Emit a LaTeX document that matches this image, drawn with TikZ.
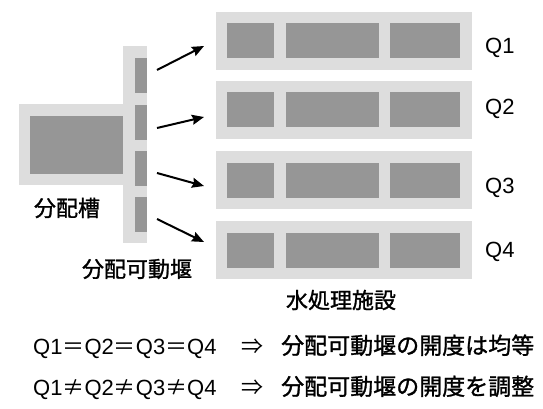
\documentclass[tikz,border=0pt]{standalone}
\usepackage{fontspec}
\setmainfont{Liberation Sans}
\newfontfamily\jp{Noto Sans CJK JP}
\newfontfamily\jpm{Noto Sans CJK JP}[FakeBold=1.2]
\usetikzlibrary{arrows.meta}
\definecolor{lite}{RGB}{221,221,221}
\definecolor{dark}{RGB}{150,150,150}
\begin{document}
\begin{tikzpicture}[x=1pt,y=-1pt,
 box/.style={rectangle,inner sep=0,outer sep=0,draw=none},
 outerbox/.style={box,fill=lite},
 innerbox/.style={box,fill=dark},
 flow/.style={line width=2pt,-{Stealth[length=12pt,width=10pt,inset=1.5pt]}},
 qlab/.style={font=\fontsize{22}{26}\selectfont,anchor=base west,inner sep=0},
 jlab/.style={font=\jpm\fontsize{22}{26}\selectfont,inner sep=0},
 eqline/.style={font=\fontsize{22}{26}\selectfont,anchor=base west,inner sep=0},
 jline/.style={font=\jpm\fontsize{23}{26}\selectfont,anchor=base west,inner sep=0}]
\useasboundingbox (0,0) rectangle (543,409);
% distribution tank and weir column
\node[outerbox,minimum width=104pt,minimum height=81pt] (tank) at (71,144.5) {};
\node[outerbox,minimum width=24pt,minimum height=197pt] (col) at (135,144.5) {};
\node[innerbox,minimum width=93pt,minimum height=58pt] (tankin) at (76.5,145) {};
\foreach \i/\yy in {1/75.5,2/122.5,3/168.5,4/214.5}
  \node[innerbox,minimum width=12pt,minimum height=35pt] (slot\i) at (141,\yy) {};
% treatment facility rows
\foreach \i/\yy in {1/41,2/110,3/180,4/250}{
  \node[outerbox,minimum width=256pt,minimum height=58pt] (row\i) at (344,\yy) {};
  \node[innerbox,minimum width=47pt,minimum height=35pt] (row\i a) at (250.5,\yy) {};
  \node[innerbox,minimum width=93pt,minimum height=35pt] (row\i b) at (332.5,\yy) {};
  \node[innerbox,minimum width=70pt,minimum height=35pt] (row\i c) at (425,\yy) {};
}
% arrows
\coordinate (s1) at (157,70);  \coordinate (e1) at (204,46);
\coordinate (s2) at (157,128); \coordinate (e2) at (204,117);
\coordinate (s3) at (157,173); \coordinate (e3) at (204,186);
\coordinate (s4) at (157,219); \coordinate (e4) at (204,242);
\foreach \i in {1,2,3,4} \draw[flow] (s\i) -- (e\i);
% Q labels
\node[qlab] (q1) at (485,53.5) {Q1};
\node[qlab] (q2) at (485,114.5) {Q2};
\node[qlab] (q3) at (485,193) {Q3};
\node[qlab] (q4) at (485,257.5) {Q4};
% Japanese labels
\node[jlab] (tanklabel) at (67,208) {分配槽};
\node[jlab] (weirlabel) at (137,269) {分配可動堰};
\node[jlab] (faclabel) at (341,300) {水処理施設};
% bottom lines
\node[eqline] (eq1) at (33,354) {Q1{\jp ＝}Q2{\jp ＝}Q3{\jp ＝}Q4};
\node[eqline,anchor=base] (imp1) at (252,354) {\jp ⇒};
\node[jline] (res1) at (281,354) {分配可動堰の開度は均等};
\node[eqline] (eq2) at (33,395) {Q1{\jp ≠}Q2{\jp ≠}Q3{\jp ≠}Q4};
\node[eqline,anchor=base] (imp2) at (252,395) {\jp ⇒};
\node[jline] (res2) at (281,395) {分配可動堰の開度を調整};
\end{tikzpicture}
\end{document}
